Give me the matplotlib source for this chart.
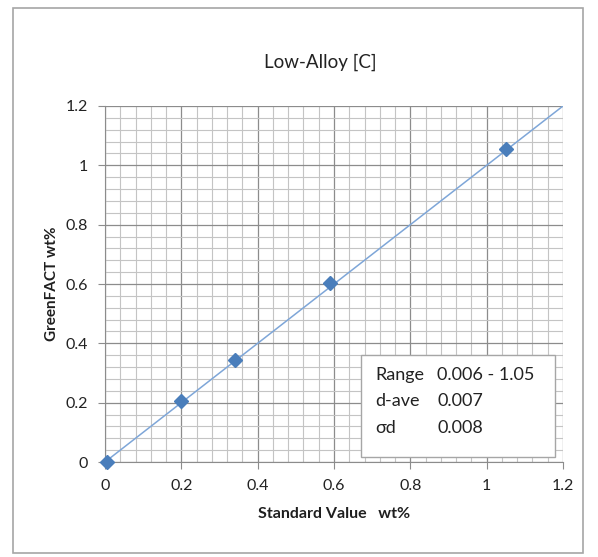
import matplotlib
matplotlib.use('Agg')
from matplotlib import pyplot as plt
from matplotlib.patches import Rectangle
from matplotlib.ticker import MultipleLocator, FuncFormatter
import numpy as np

# data
std_value = [0.006, 0.2, 0.34, 0.59, 1.05]
greenfact = [0.0, 0.205, 0.345, 0.605, 1.055]
fit_x = [0.0, 1.2]
fit_y = [0.0, 1.2]
stats_names = ['Range', 'd-ave', 'σd']
stats_values = ['0.006 - 1.05', '0.007', '0.008']

plt.rcParams['font.family'] = ['Lato', 'DejaVu Sans']

W, H = 598, 557
fig = plt.figure(figsize=(W/100, H/100), dpi=100)
fig.patches.append(Rectangle((13/W, 1-553/H), 570/W, 545/H,
                             transform=fig.transFigure, fill=False,
                             edgecolor='#a6a6a6', lw=1.2))

ax = fig.add_axes([105/W, 1-462/H, 458/W, 356/H])

ax.plot(fit_x, fit_y, color='#7ea6d8', lw=1.1, zorder=3)
ax.plot(std_value, greenfact, 'D', color='#4a7ebb', ms=7, zorder=4, clip_on=False)

ax.set_xlim(0, 1.2)
ax.set_ylim(0, 1.2)
ax.xaxis.set_major_locator(MultipleLocator(0.2))
ax.yaxis.set_major_locator(MultipleLocator(0.2))
ax.xaxis.set_minor_locator(MultipleLocator(0.04))
ax.yaxis.set_minor_locator(MultipleLocator(0.04))
fmt = FuncFormatter(lambda v, p: ('%g' % round(v, 2)))
ax.xaxis.set_major_formatter(fmt)
ax.yaxis.set_major_formatter(fmt)

ax.grid(which='major', color='#8c8c8c', lw=0.9)
ax.grid(which='minor', color='#c4c4c4', lw=0.8)
ax.set_axisbelow(True)
for s in ['top', 'right']:
    ax.spines[s].set_visible(False)
for s in ['left', 'bottom']:
    ax.spines[s].set_color('#8c8c8c')
ax.tick_params(which='major', direction='out', length=5, color='#8c8c8c',
               labelsize=11.5, pad=7, labelcolor='#222222')
ax.tick_params(which='minor', length=0)

fig.text(320/W, 1-62/H, 'Low-Alloy [C]', fontsize=13.5, ha='center', va='center', color='#222222')
ax.set_xlabel('Standard Value   wt%', fontsize=11.5, fontweight='bold', labelpad=10, color='#1f1f1f')
ax.set_ylabel('GreenFACT wt%', fontsize=11, fontweight='bold', labelpad=5, color='#1f1f1f')

# stats box
ax.add_patch(Rectangle((0.559, 0.014), 0.424, 0.287, transform=ax.transAxes,
                       facecolor='white', edgecolor='#a6a6a6', lw=1, zorder=5))
for i, (n, v) in enumerate(zip(stats_names, stats_values)):
    yy = (462 - (375 + 26.5*i)) / 356
    ax.text((375-105)/458, yy, n, transform=ax.transAxes, fontsize=13,
            va='center', ha='left', color='#222222', zorder=6)
    ax.text((437-105)/458, yy, v, transform=ax.transAxes, fontsize=13,
            va='center', ha='left', color='#222222', zorder=6)

fig.savefig('out.png', dpi=100)
